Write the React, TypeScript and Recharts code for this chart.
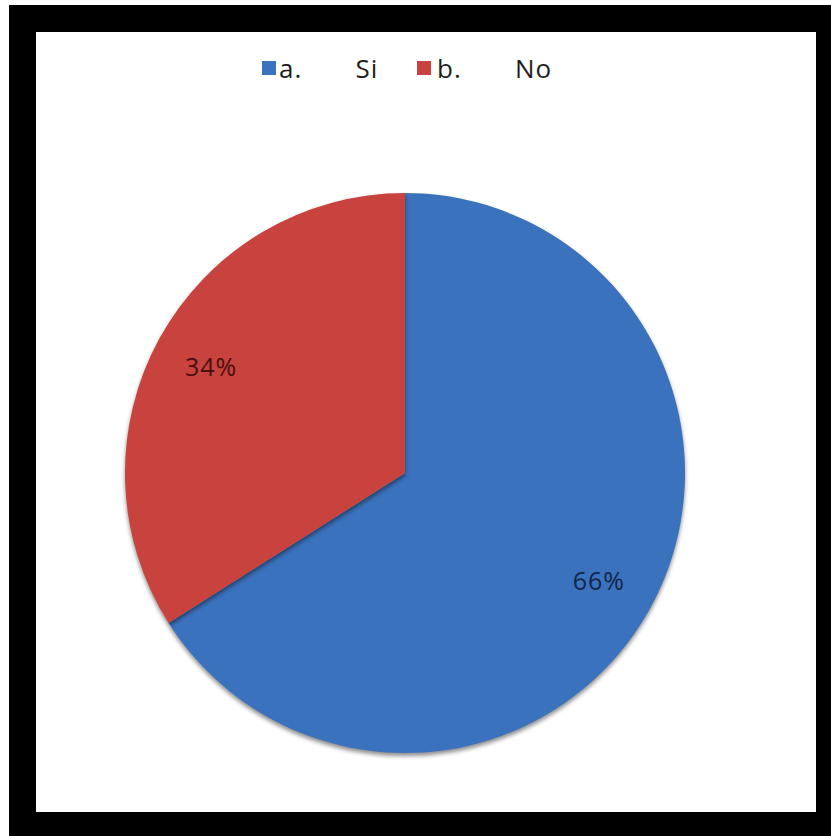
import React from "react";
import { PieChart, Pie, Cell, Legend } from "recharts";

const categories = ["a.   Si", "b.   No"];
const values = [66, 34];
const percentLabels = ["66%", "34%"];
const sliceColors = ["#3b72bd", "#c8423e"];
const labelColors = ["#12264a", "#4a1010"];

const data = categories.map((name, i) => ({ name, value: values[i], label: percentLabels[i] }));

const RAD = Math.PI / 180;

const renderLabel = (props: any) => {
  const { cx, cy, midAngle, outerRadius, index } = props;
  const r = outerRadius * 0.79;
  const x = cx + r * Math.cos(-midAngle * RAD);
  const y = cy + r * Math.sin(-midAngle * RAD);
  return (
    <text
      x={x}
      y={y}
      fill={labelColors[index]}
      textAnchor="middle"
      dominantBaseline="central"
      fontFamily="'Open Sans', 'Liberation Sans', sans-serif"
      fontSize={25}
      letterSpacing={1}
    >
      {data[index].label}
    </text>
  );
};

const LegendContent = () => (
  <div style={{ display: "flex", alignItems: "center", fontFamily: "'Open Sans', 'Liberation Sans', sans-serif", fontSize: 26, color: "#1e1e1e" }}>
    {categories.map((c, i) => (
      <div key={c} style={{ display: "flex", alignItems: "center", width: i === 0 ? 155 : "auto" }}>
        <span style={{ display: "inline-block", width: 14, height: 14, background: sliceColors[i], marginRight: i === 0 ? 3 : 6 }} />
        <span style={{ whiteSpace: "pre", wordSpacing: 10, letterSpacing: 1 }}>{c}</span>
      </div>
    ))}
  </div>
);

export default function App() {
  return (
    <div style={{ position: "absolute", left: 0, top: 0, width: 831, height: 836, background: "#ffffff" }}>
      <style>{`.recharts-pie-sector path { filter: drop-shadow(0px 3px 2px rgba(0,0,0,0.45)); }`}</style>
      <div style={{ position: "absolute", left: 9, top: 5, width: 822, height: 831, background: "#000000" }} />
      <div style={{ position: "absolute", left: 36, top: 32, width: 780, height: 780, background: "#ffffff" }}>
        <PieChart width={780} height={780} margin={{ top: 0, right: 0, bottom: 0, left: 0 }}>
          <Legend
            verticalAlign="top"
            content={<LegendContent />}
            wrapperStyle={{ position: "absolute", top: 18, left: 226, width: "auto" }}
          />
          <Pie
            data={data}
            dataKey="value"
            nameKey="name"
            cx={369}
            cy={405}
            outerRadius={280}
            startAngle={90}
            endAngle={-270}
            stroke="none"
            label={renderLabel}
            labelLine={false}
            isAnimationActive={false}
          >
            {data.map((d, i) => (
              <Cell key={d.name} fill={sliceColors[i]} />
            ))}
          </Pie>
        </PieChart>
      </div>
    </div>
  );
}
